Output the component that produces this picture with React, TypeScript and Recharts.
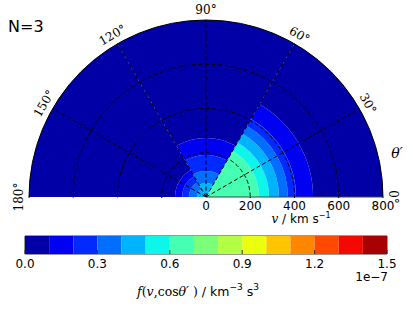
import React from 'react';
import {
  RadialBarChart,
  RadialBar,
  PolarAngleAxis,
  PolarRadiusAxis,
  PolarGrid,
  BarChart,
  Bar,
  XAxis,
  YAxis,
  ReferenceArea,
} from 'recharts';

// ---- data ----
// three bins in cos(theta') (N=3): angular sectors
const sectors = ['0°–60°', '60°–120°', '120°–180°'];
// contour level index of each band, stacked from the centre outward
const stackLevels = [6, 5, 4, 3, 2, 1, 0];
// outer speed (km/s) of each stacked band, per sector
const outerSpeed0to60 = [240, 285, 330, 370, 407, 484, 800];
const outerSpeed60to120 = [0, 0, 63, 118, 190, 267, 800];
const outerSpeed120to180 = [0, 0, 41, 77, 108, 140, 800];

const speedTicks = [0, 200, 400, 600, 800];
const speedGridTicks = [200, 400, 600];
const angleTicks = [0, 30, 60, 90, 120, 150, 180];
const angleGridTicks = [30, 60, 90, 120, 150];

// colour levels (units of 1e-7 km^-3 s^3)
const levelBounds = [0, 0.1, 0.2, 0.3, 0.4, 0.5, 0.6, 0.7, 0.8, 0.9, 1.0, 1.1, 1.2, 1.3, 1.4, 1.5];
const levelColors = [
  '#0000A6', '#0000F3', '#002AFF', '#006EFF', '#00B3FF', '#0EF6E9', '#45FFB2', '#7BFF7B',
  '#B2FF45', '#E9FF0E', '#FFC600', '#FF8700', '#FF4800', '#F30900', '#A60000',
];
const colorbarTicks = [0, 0.3, 0.6, 0.9, 1.2, 1.5];

// ---- tables built from the arrays ----
const outerBySector = [outerSpeed0to60, outerSpeed60to120, outerSpeed120to180];
const polarData = sectors.map((sector, s) => {
  const row: Record<string, any> = { sector };
  const outer = outerBySector[s];
  stackLevels.forEach((lvl, i) => {
    row[`L${lvl}`] = outer[i] - (i > 0 ? outer[i - 1] : 0);
  });
  return row;
});
const angleData = angleTicks.map((a) => ({ a }));
const speedData = speedTicks.map((v) => ({ v }));

const colorbarRow: Record<string, any> = { name: 'cb' };
levelColors.forEach((_, i) => {
  colorbarRow[`c${i}`] = levelBounds[i + 1] - levelBounds[i];
});
const colorbarData = [colorbarRow];

const W = 413;
const CX = 206;
const CY = 197;
const R = 177;

const AngleTick = (props: any) => {
  const { x, y, payload } = props;
  const v = Number(payload.value);
  return (
    <text
      x={x}
      y={y}
      transform={`rotate(${90 - v}, ${x}, ${y})`}
      textAnchor="middle"
      dominantBaseline="central"
      fontFamily="DejaVu Serif"
      fontSize={12}
      fill="#000"
    >
      {v}°
    </text>
  );
};

const SpeedTick = (props: any) => {
  const { x, y, payload } = props;
  return (
    <text x={x} y={y + 13} textAnchor="middle" fontFamily="DejaVu Sans" fontSize={12} fill="#000">
      {payload.value}
    </text>
  );
};

const overlay: React.CSSProperties = { position: 'absolute', left: 0, top: 0, pointerEvents: 'none' };
const noMargin = { top: 0, right: 0, bottom: 0, left: 0 };

export default function App() {
  return (
    <div style={{ position: 'absolute', left: 0, top: 0, width: W, height: 310, background: '#fff' }}>
      {/* filled contour sectors + speed axis */}
      <div style={{ position: 'absolute', left: 0, top: 0 }}>
        <RadialBarChart
          width={W}
          height={230}
          cx={CX}
          cy={CY}
          innerRadius={0}
          outerRadius={R}
          startAngle={60}
          endAngle={240}
          layout="centric"
          barCategoryGap={0}
          barGap={0}
          data={polarData}
          margin={noMargin}
        >
          <PolarAngleAxis dataKey="sector" type="category" tick={false} tickLine={false} axisLine={false} />
          <PolarRadiusAxis
            type="number"
            domain={[0, 800]}
            ticks={speedTicks}
            angle={0}
            tick={SpeedTick}
            tickLine={false}
            axisLine={{ stroke: '#444', strokeWidth: 1 }}
          />
          <PolarRadiusAxis
            radiusAxisId="left"
            type="number"
            domain={[0, 800]}
            ticks={speedTicks}
            angle={180}
            tick={false}
            tickLine={false}
            axisLine={{ stroke: '#444', strokeWidth: 1 }}
          />
          {stackLevels.map((lvl) => (
            <RadialBar
              key={lvl}
              dataKey={`L${lvl}`}
              stackId="f"
              fill={levelColors[lvl]}
              isAnimationActive={false}
            />
          ))}
        </RadialBarChart>
      </div>

      {/* dashed radial lines + frame arc, clipped to the upper half */}
      <div style={overlay}>
        <RadialBarChart
          width={W}
          height={CY + 1}
          cx={CX}
          cy={CY}
          innerRadius={0}
          outerRadius={R}
          startAngle={0}
          endAngle={180}
          data={angleData}
          margin={noMargin}
        >
          <PolarGrid gridType="circle" polarRadius={[]} stroke="#000" strokeWidth={1} strokeDasharray="4 2.5" />
          <PolarAngleAxis
            type="number"
            dataKey="a"
            domain={[0, 180]}
            ticks={angleGridTicks}
            tick={false}
            tickLine={false}
            axisLine={{ stroke: '#000', strokeWidth: 1 }}
            axisLineType="circle"
          />
        </RadialBarChart>
      </div>

      {/* dashed speed circles, clipped to the upper half */}
      <div style={overlay}>
        <RadialBarChart
          width={W}
          height={CY + 1}
          cx={CX}
          cy={CY}
          innerRadius={0}
          outerRadius={R}
          startAngle={0}
          endAngle={180}
          layout="centric"
          data={speedData}
          margin={noMargin}
        >
          <PolarGrid gridType="circle" radialLines={false} stroke="#000" strokeWidth={1} strokeDasharray="4 2.5" />
          <PolarAngleAxis dataKey="v" type="category" tick={false} tickLine={false} axisLine={false} />
          <PolarRadiusAxis
            type="number"
            dataKey="v"
            domain={[0, 800]}
            ticks={speedGridTicks}
            tick={false}
            tickLine={false}
            axisLine={false}
          />
        </RadialBarChart>
      </div>

      {/* angle labels */}
      <div style={overlay}>
        <RadialBarChart
          width={W}
          height={230}
          cx={CX}
          cy={CY}
          innerRadius={0}
          outerRadius={R}
          startAngle={0}
          endAngle={180}
          data={angleData}
          margin={noMargin}
        >
          <PolarAngleAxis
            type="number"
            dataKey="a"
            domain={[0, 180]}
            ticks={angleTicks}
            tick={AngleTick}
            tickLine={false}
            axisLine={false}
            tickSize={10}
          />
        </RadialBarChart>
      </div>

      {/* colour bar */}
      <div style={{ position: 'absolute', left: 0, top: 226 }}>
        <BarChart
          width={W}
          height={84}
          layout="vertical"
          data={colorbarData}
          barCategoryGap={0}
          barGap={0}
          margin={{ top: 10, right: 26, bottom: 26, left: 25 }}
        >
          <XAxis
            type="number"
            domain={[0, 1.5]}
            ticks={colorbarTicks}
            tickFormatter={(v: number) => v.toFixed(1)}
            axisLine={false}
            tickLine={{ stroke: '#333' }}
            tickSize={-4}
            tickMargin={9}
            height={30}
            interval={0}
            tick={{ fontSize: 12, fill: '#000', fontFamily: 'DejaVu Sans' }}
          />
          <YAxis type="category" dataKey="name" hide />
          {levelColors.map((c, i) => (
            <Bar key={i} dataKey={`c${i}`} stackId="cb" fill={c} isAnimationActive={false} />
          ))}
          <ReferenceArea x1={0} x2={1.5} fill="none" stroke="#333" strokeWidth={1} ifOverflow="visible" />
        </BarChart>
      </div>

      {/* annotations */}
      <svg
        width={W}
        height={310}
        style={{ position: 'absolute', left: 0, top: 0, pointerEvents: 'none', overflow: 'visible' }}
      >
        <text x={8} y={32} fontFamily="DejaVu Sans" fontSize={16} fill="#000">N=3</text>
        <text x={397} y={158} textAnchor="middle" fontFamily="DejaVu Serif" fontStyle="italic" fontSize={14} fill="#000">θ′</text>
        <text x={301} y={223} textAnchor="middle" fontFamily="DejaVu Sans" fontSize={12} fill="#000">
          <tspan fontFamily="DejaVu Serif" fontStyle="italic">v</tspan>
          <tspan> / km s</tspan>
          <tspan fontSize={8} dy={-5}>−1</tspan>
        </text>
        <text x={388} y={281} textAnchor="end" fontFamily="DejaVu Sans" fontSize={12} fill="#000">1e−7</text>
        <text x={198} y={296} textAnchor="middle" fontFamily="DejaVu Sans" fontSize={12.5} fill="#000">
          <tspan fontFamily="DejaVu Serif" fontStyle="italic">f</tspan>
          <tspan fontFamily="DejaVu Serif">(</tspan>
          <tspan fontFamily="DejaVu Serif" fontStyle="italic">v</tspan>
          <tspan fontFamily="DejaVu Serif">,cos</tspan>
          <tspan fontFamily="DejaVu Serif" fontStyle="italic">θ′</tspan>
          <tspan fontFamily="DejaVu Serif"> )</tspan>
          <tspan> / km</tspan>
          <tspan fontSize={9} dy={-6}>−3</tspan>
          <tspan dy={6}> s</tspan>
          <tspan fontSize={9} dy={-6}>3</tspan>
        </text>
      </svg>
    </div>
  );
}
